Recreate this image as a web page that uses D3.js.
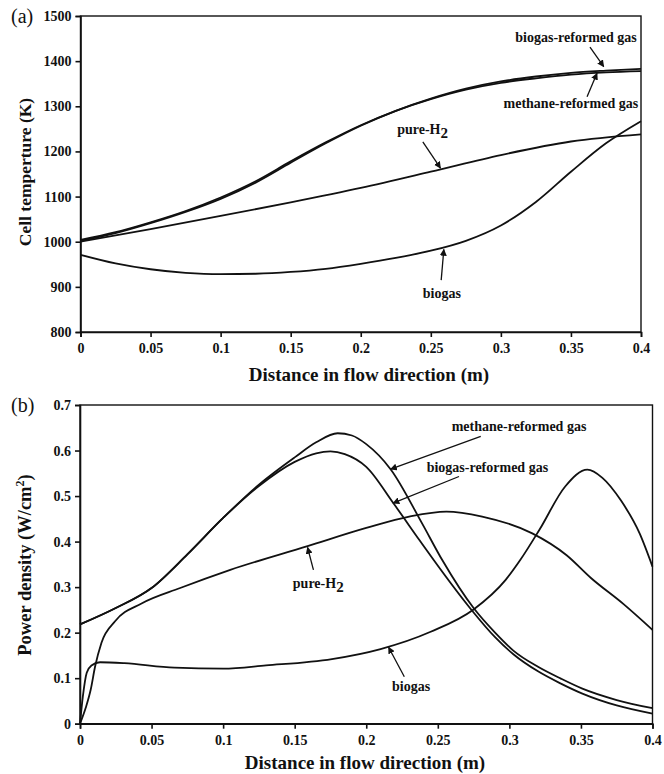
<!DOCTYPE html>
<html lang="en">
<head>
<meta charset="utf-8">
<title>Cell temperature and power density</title>
<script src="https://d3js.org/d3.v7.min.js"></script>
<style>
  body { margin: 0; background: #fff; }
  text { font-family: "Liberation Serif", "DejaVu Serif", serif; fill: #111; }
  .tick text { font-size: 14px; font-weight: bold; }
  .axis path, .axis line { stroke: #111; stroke-width: 1.6; }
  .curve { fill: none; stroke: #111; stroke-width: 1.8; }
  .note { font-size: 14px; font-weight: bold; }
  .title { font-weight: bold; }
</style>
</head>
<body>
<script>
// ---- data ----
var xTicks = [0, 0.05, 0.1, 0.15, 0.2, 0.25, 0.3, 0.35, 0.4];
var tempTicks = [800, 900, 1000, 1100, 1200, 1300, 1400, 1500];
var powerTicks = [0, 0.1, 0.2, 0.3, 0.4, 0.5, 0.6, 0.7];

// (a) cell temperature, K
var tempMethane = [[0,1004],[0.025,1021],[0.05,1043],[0.075,1068],[0.1,1098],[0.125,1134],[0.15,1178],
  [0.175,1220],[0.2,1258],[0.225,1290],[0.25,1316],[0.275,1337],[0.3,1352],[0.325,1362],[0.35,1370],[0.375,1375],[0.4,1378]];
var tempBiogasRef = [[0,1002],[0.025,1019],[0.05,1041],[0.075,1066],[0.1,1095],[0.125,1131],[0.15,1175],
  [0.175,1218],[0.2,1257],[0.225,1290],[0.25,1317],[0.275,1339],[0.3,1355],[0.325,1366],[0.35,1374],[0.375,1379],[0.4,1383]];
var tempPureH2 = [[0,1000],[0.05,1028],[0.1,1057],[0.15,1087],[0.2,1119],[0.25,1155],[0.3,1192],[0.35,1222],[0.4,1238]];
var tempBiogas = [[0,971],[0.025,952],[0.05,939],[0.075,931],[0.1,928],[0.125,929],[0.15,933],[0.175,940],
  [0.2,951],[0.225,964],[0.25,980],[0.275,1002],[0.3,1036],[0.325,1088],[0.35,1155],[0.375,1218],[0.4,1267]];

// (b) power density, W/cm2
var powMethane = [[0,0.218],[0.025,0.254],[0.05,0.298],[0.075,0.372],[0.1,0.452],[0.125,0.525],[0.15,0.585],
  [0.165,0.618],[0.18,0.638],[0.19,0.633],[0.2,0.614],[0.217,0.559],[0.239,0.44],[0.253,0.36],[0.275,0.254],
  [0.29,0.2],[0.303,0.16],[0.32,0.125],[0.336,0.099],[0.351,0.077],[0.375,0.052],[0.4,0.034]];
var powBiogasRef = [[0,0.218],[0.025,0.254],[0.05,0.298],[0.075,0.372],[0.1,0.452],[0.125,0.522],[0.15,0.575],
  [0.165,0.594],[0.175,0.598],[0.185,0.592],[0.2,0.564],[0.219,0.484],[0.237,0.404],[0.247,0.36],[0.273,0.252],
  [0.29,0.19],[0.303,0.152],[0.32,0.115],[0.336,0.088],[0.351,0.066],[0.375,0.04],[0.4,0.022]];
var powPureH2 = [[0,0],[0.004,0.035],[0.0075,0.075],[0.0105,0.125],[0.015,0.178],[0.0245,0.225],[0.043,0.264],
  [0.07,0.298],[0.105,0.338],[0.159,0.39],[0.2,0.43],[0.23,0.455],[0.256,0.466],[0.281,0.455],[0.316,0.418],
  [0.34,0.37],[0.357,0.32],[0.38,0.262],[0.4,0.206]];
var powBiogas = [[0,0],[0.002,0.06],[0.0047,0.112],[0.008,0.128],[0.014,0.135],[0.031,0.133],[0.066,0.123],
  [0.1,0.121],[0.13,0.128],[0.176,0.142],[0.21,0.164],[0.245,0.202],[0.275,0.251],[0.2974,0.316],[0.3077,0.36],
  [0.321,0.426],[0.339,0.521],[0.3545,0.558],[0.365,0.54],[0.378,0.49],[0.391,0.418],[0.4,0.345]];

var W = 664, H = 774;
var svg = d3.select("body").append("svg").attr("width", W).attr("height", H);

svg.append("defs").append("marker")
  .attr("id", "head").attr("viewBox", "0 0 10 10")
  .attr("refX", 9).attr("refY", 5)
  .attr("markerWidth", 7).attr("markerHeight", 7)
  .attr("markerUnits", "userSpaceOnUse")
  .attr("orient", "auto")
  .append("path").attr("d", "M0,0 L10,5 L0,10 z").attr("fill", "#111");

function panel(opt) {
  var x = d3.scaleLinear().domain([0, 0.4]).range([opt.left, opt.right]);
  var y = d3.scaleLinear().domain(opt.yDomain).range([opt.bottom, opt.top]);

  // frame
  svg.append("rect")
    .attr("x", opt.left).attr("y", opt.top)
    .attr("width", opt.right - opt.left).attr("height", opt.bottom - opt.top)
    .attr("fill", "none").attr("stroke", "#111").attr("stroke-width", 1.4);

  var xAxis = d3.axisBottom(x).tickValues(xTicks).tickSize(5).tickPadding(6)
    .tickFormat(function(d) { return d3.format("")(+d.toFixed(2)); });
  svg.append("g").attr("class", "axis")
    .attr("transform", "translate(0," + opt.bottom + ")")
    .call(xAxis);

  var yAxis = d3.axisLeft(y).tickValues(opt.yTicks).tickSize(5).tickPadding(4)
    .tickFormat(opt.yFormat);
  svg.append("g").attr("class", "axis")
    .attr("transform", "translate(" + opt.left + ",0)")
    .call(yAxis);

  var line = d3.line()
    .x(function(d) { return x(d[0]); })
    .y(function(d) { return y(d[1]); })
    .curve(d3.curveMonotoneX);

  opt.series.forEach(function(s) {
    svg.append("path").attr("class", "curve").attr("d", line(s));
  });

  opt.notes.forEach(function(n) {
    var t = svg.append("text").attr("class", "note")
      .attr("x", x(n.at[0])).attr("y", y(n.at[1]))
      .attr("dy", "0.35em")
      .attr("text-anchor", n.anchor || "start");
    if (n.sub) {
      t.append("tspan").text(n.text);
      t.append("tspan").attr("dy", 4).attr("font-size", 15).text(n.sub);
    } else {
      t.text(n.text);
    }
    svg.append("line")
      .attr("x1", x(n.from[0])).attr("y1", y(n.from[1]))
      .attr("x2", x(n.to[0])).attr("y2", y(n.to[1]))
      .attr("stroke", "#111").attr("stroke-width", 1.3)
      .attr("marker-end", "url(#head)");
  });

  // x title
  svg.append("text").attr("class", "title")
    .attr("font-size", 19)
    .attr("x", opt.titleX).attr("y", opt.bottom + opt.titleGap)
    .attr("text-anchor", "middle")
    .text("Distance in flow direction (m)");

  // y title
  var yt = svg.append("text").attr("class", "title")
    .attr("font-size", opt.yTitleSize)
    .attr("transform", "translate(31," + opt.yTitleY + ") rotate(-90)")
    .attr("text-anchor", "middle");
  opt.yTitle(yt);

  // panel letter
  svg.append("text")
    .attr("x", 11).attr("y", opt.top + 7)
    .attr("font-size", 20)
    .text(opt.letter);
}

panel({
  left: 80.5, right: 641, top: 16, bottom: 332,
  yDomain: [800, 1500], yTicks: tempTicks, yFormat: d3.format("d"),
  series: [tempMethane, tempBiogasRef, tempPureH2, tempBiogas],
  letter: "(a)", titleX: 369, titleGap: 49, yTitleY: 172, yTitleSize: 17.5,
  yTitle: function(t) { t.text("Cell temperture (K)"); },
  notes: [
    { text: "biogas-reformed gas", anchor: "end", at: [0.397, 1453], from: [0.3636, 1431], to: [0.3734, 1388] },
    { text: "methane-reformed gas", anchor: "end", at: [0.398, 1307], from: [0.3615, 1321], to: [0.3686, 1373] },
    { text: "pure-H", sub: "2", at: [0.226, 1249], from: [0.2443, 1221], to: [0.2569, 1163] },
    { text: "biogas", at: [0.2443, 887], from: [0.2574, 915], to: [0.2593, 983] }
  ]
});

panel({
  left: 80, right: 652.5, top: 405, bottom: 723.7,
  yDomain: [0, 0.7], yTicks: powerTicks, yFormat: function(d) { return d3.format("")(+d.toFixed(1)); },
  series: [powMethane, powBiogasRef, powPureH2, powBiogas],
  letter: "(b)", titleX: 365, titleGap: 45, yTitleY: 565, yTitleSize: 18.5,
  yTitle: function(t) {
    t.append("tspan").text("Power density (W/cm");
    t.append("tspan").attr("dy", -7).attr("font-size", 12).text("2");
    t.append("tspan").attr("dy", 7).text(")");
  },
  notes: [
    { text: "methane-reformed gas", at: [0.2597, 0.653], from: [0.28, 0.631], to: [0.217, 0.559] },
    { text: "biogas-reformed gas", at: [0.2422, 0.5635], from: [0.2648, 0.543], to: [0.2187, 0.4844] },
    { text: "pure-H", sub: "2", at: [0.1487, 0.308], from: [0.1631, 0.338], to: [0.159, 0.387] },
    { text: "biogas", at: [0.218, 0.083], from: [0.2266, 0.103], to: [0.2156, 0.168] }
  ]
});
</script>
</body>
</html>
